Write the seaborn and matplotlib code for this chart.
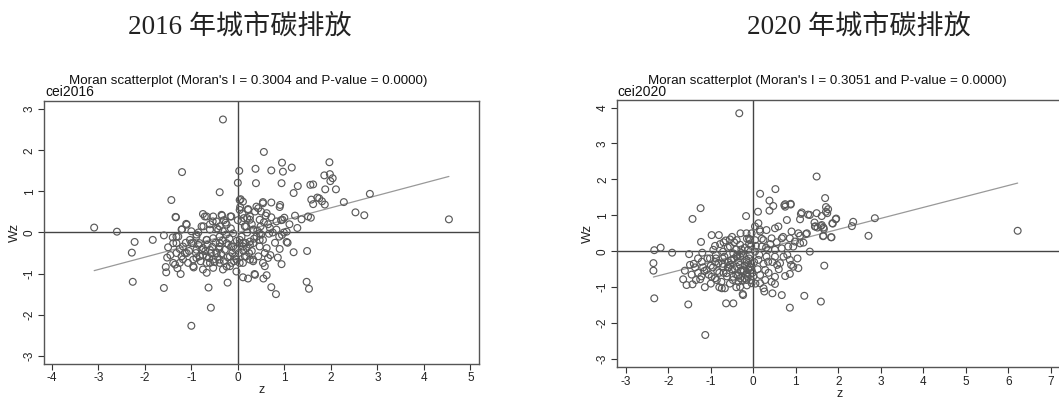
import matplotlib
matplotlib.use("Agg")
import matplotlib.pyplot as plt
import seaborn as sns
import pandas as pd

# ------------------------
# DADOS
# ------------------------
titles = ["2016 年城市碳排放", "2020 年城市碳排放"]
var_names = ["cei2016", "cei2020"]
moran_i = [0.3004, 0.3051]
p_values = [0.0000, 0.0000]

z_2016 = [
    -0.32, 0.56, -1.2, 0.03, 0.38, 0.72, 0.0, 0.39, -0.39, -1.43,
    -3.09, -2.6, -2.22, -2.28, -2.26, -1.83, -1.59, -1.34, -1.0, -0.58,
    -0.63, -1.59, -1.23, -0.22, -0.67, 0.11, 0.22, 0.36, 0.55, 0.62,
    0.72, 0.82, 0.95, 1.97, 0.97, 1.16, 1.86, 1.98, 2.04, 1.99,
    0.94, 1.29, 1.2, 1.56, 1.62, 1.88, 2.11, 1.58, 1.62, 1.71,
    1.75, 1.81, 1.87, 2.28, 2.84, 2.53, 2.72, 4.54, 1.23, 1.37,
    1.51, 1.57, 1.11, 1.28, 1.05, 1.07, 1.2, 1.49, 0.9, 0.86,
    0.94, 1.48, 1.53, 0.91, 0.72, 0.54, 1.0, 0.93, 0.99, 1.05,
    0.95, -1.33, -0.75, -0.71, -1.11, -1.2, -0.54, -0.35, -0.16, -0.26,
    -1.32, -1.32, -1.5, -1.52, -1.55, -1.54, -1.35, -1.3, -1.14, -1.0,
    -0.89, -0.67, -0.96, -0.78, -0.67, -0.6, -0.46, -0.39, -0.24, -0.39,
    -0.14, -0.06, 0.04, -0.42, -0.32, -0.25, 0.06, 0.11, 0.05, 0.22,
    0.37, 0.44, 0.5, 0.6, 0.72, 0.9, 0.83, 0.96, 0.47, 0.26,
    0.13, 0.15, 0.33, 0.49, 0.69, 0.83, 0.4, 0.54, 0.67, 0.89,
    0.26, 0.11, 0.19, 0.26, 0.47, 0.62, 0.58, 0.44, 0.65, 0.15,
    0.26, 0.11, 0.33, 0.54, 0.58, 0.37, -0.53, -0.34, -0.14, -0.46,
    -0.67, -0.74, -0.6, -0.39, -0.24, -0.1, 0.04, 0.22, 0.26, 0.4,
    0.54, 0.62, 0.04, 0.08, 0.18, 0.33, 0.47, 0.04, 0.11, 0.33,
    0.47, 0.18, 0.33, 0.04, -0.03, -0.17, -0.14, -0.1, -0.24, -0.39,
    -0.46, -0.53, -0.67, -0.82, -0.89, -0.96, -1.03, -1.1, -1.18, -1.32,
    -1.39, -1.25, -1.07, -0.96, -0.75, -0.53, -0.32, -0.17, -0.03, -0.39,
    -0.82, -0.67, -0.53, -0.39, -0.75, -0.6, -0.89, -1.21, -1.39, -1.28,
    -1.21, -1.1, -1.0, -0.89, -0.78,
    -0.9, -0.85, -0.8, -0.75, -0.7, -0.65, -0.62, -0.58, -0.55, -0.5,
    -0.48, -0.44, -0.4, -0.36, -0.33, -0.3, -0.28, -0.22, -0.2, -0.18,
    -0.12, -0.08, -0.05, -0.02, 0.02, 0.08, 0.12, 0.16, 0.2, 0.24,
    0.3, 0.35, 0.42, 0.5, 0.56, 0.65, 0.75, 0.8, 0.7, 0.3,
    -1.05, -1.12, -1.18, -1.25, -0.95, -0.85, -0.6, -0.45, -0.3, -0.15,
    -1.45, -1.4, 0.1, 0.2, 0.0,
]
wz_2016 = [
    2.75, 1.96, 1.47, 1.5, 1.55, 1.51, 1.21, 1.2, 0.98, 0.79,
    0.12, 0.02, -0.23, -0.49, -1.2, -0.18, -0.07, 0.38, -2.27, -1.83,
    -1.34, -1.35, -1.01, -1.22, -0.98, -1.09, -1.12, -1.01, -1.12, -1.04,
    -1.33, -1.5, 1.7, 1.71, 1.48, 1.58, 1.39, 1.42, 1.32, 1.25,
    1.2, 1.13, 0.96, 1.16, 1.17, 1.05, 1.05, 0.8, 0.69, 0.85,
    0.83, 0.76, 0.68, 0.74, 0.94, 0.49, 0.42, 0.32, 0.41, 0.32,
    0.39, 0.36, 0.2, 0.11, -0.23, -0.25, -0.48, -0.45, -0.4, -0.61,
    -0.77, -1.2, -1.37, 0.67, 0.73, 0.74, 0.36, 0.3, 0.0, 0.02,
    -0.06, 0.37, 0.45, 0.39, 0.21, 0.08, 0.27, 0.43, 0.39, 0.24,
    -0.1, -0.26, -0.36, -0.61, -0.84, -0.97, -0.78, -0.87, -0.5, -0.26,
    -0.1, -0.18, -0.66, -0.42, -0.58, -0.74, -0.5, -0.66, -0.83, -0.26,
    -0.34, -0.58, -0.26, 0.07, 0.03, -0.05, 0.81, 0.75, 0.62, 0.57,
    0.51, 0.59, 0.51, 0.41, 0.37, 0.62, 0.27, 0.31, 0.31, 0.31,
    0.35, 0.15, 0.07, 0.15, 0.11, 0.07, -0.1, -0.18, -0.03, -0.1,
    -0.22, -0.26, -0.38, -0.3, -0.34, -0.38, -0.5, -0.58, -0.62, -0.58,
    -0.66, -0.74, -0.7, -0.74, -0.82, -1.03, 0.39, 0.41, 0.39, 0.27,
    0.39, 0.15, 0.07, 0.15, 0.19, -0.02, 0.79, 0.55, 0.39, 0.63,
    0.71, 0.47, 0.55, 0.27, 0.15, 0.07, -0.02, -0.18, -0.34, -0.26,
    -0.18, -0.58, -0.66, -0.74, -0.66, -0.58, -0.74, -0.34, -0.26, -0.34,
    -0.5, -0.66, -0.74, -0.58, -0.42, -0.26, -0.18, -0.5, -0.34, -0.5,
    -0.74, -0.74, -0.74, -0.82, -0.9, -0.86, -0.9, -0.82, -0.95, -0.74,
    -0.26, -0.18, -0.14, -0.1, -0.38, -0.42, -0.62, -0.58, -0.26, -0.1,
    0.07, 0.19, 0.03, -0.05, 0.15,
    -0.5, -0.3, -0.7, -0.55, -0.45, -0.3, -0.62, -0.5, -0.35, -0.72,
    -0.25, -0.6, -0.4, -0.52, -0.2, -0.7, -0.42, -0.6, -0.3, -0.15,
    -0.5, -0.7, -0.4, -0.2, -0.5, -0.1, -0.45, -0.25, 0.0, -0.5,
    0.2, -0.15, 0.05, -0.05, 0.25, 0.2, 0.0, -0.25, -0.55, -0.45,
    -0.45, -0.25, -0.65, -0.4, -0.85, 0.0, 0.2, 0.1, 0.3, 0.1,
    -0.55, -0.12, 0.45, 0.35, 0.3,
]

z_2020 = [
    -0.33, -1.24, -1.43, -0.17, 0.16, 0.52, 0.38, 0.47, 0.38, 0.73,
    0.88, 0.11, 1.12, 1.29, 1.49, -2.33, -2.18, -2.35, -2.35, -2.33,
    -1.53, -1.91, -1.51, -1.23, -0.98, -0.81, -0.78, -0.94, -1.2, -1.02,
    -1.21, -1.49, -1.61, -1.65, -1.57, -1.43, -1.35, -1.25, -1.14, -1.37,
    -1.1, -0.98, -0.86, -0.74, -0.67, -0.47, -0.64, -0.55, -0.39, -0.31,
    -0.16, -0.08, -0.55, -0.71, -0.47, -0.31, -0.16, -0.08, -0.24, -0.39,
    -0.55, -0.71, -0.82, -0.63, -0.47, -0.31, -0.16, -0.04, -0.31, -0.24,
    0.75, 0.88, 0.75, 1.69, 1.71, 1.76, 1.74, 1.14, 1.33, 1.49,
    1.61, 1.1, 1.44, 1.45, 1.65, 1.59, 1.86, 1.94, 1.65, 1.83,
    1.33, 1.67, 2.35, 2.32, 1.2, 1.59, 0.86, 0.67, 0.45, 0.26,
    0.16, 0.51, 0.51, 0.75, 0.86, 0.56, 0.89, 0.94, 1.06, 0.86,
    1.04, 0.28, 0.35, 0.12, -0.12, -0.04, -0.13, 0.16, -0.12, 0.04,
    0.2, 0.35, 0.51, 0.67, 0.82, 0.94, 0.98, 1.1, 1.18, 0.86,
    0.67, 0.43, 0.24, 0.04, -0.04, 0.16, 0.31, 0.51, 0.59, 0.9,
    1.06, 1.26, 0.79, 0.12, 0.04, 0.31, 0.51, 0.71, 0.63, 0.28,
    0.43, 0.24, 1.71, 1.95, 1.87, 1.61, 1.51, 1.46, 1.66, 1.64,
    1.84, 1.24, 1.1, 2.86, 2.71, 6.22, -0.9, -0.85, -0.7, -0.6,
    -0.5, -0.45, -0.4, -0.35, -0.3, -0.25, -0.2, -0.18, -0.12, -0.1,
    -0.05, -0.02, -0.6, -0.4, -0.2, -0.1, -0.45, -0.65, -1.0, -1.15,
    -1.3, -1.4, -1.3, -1.05, -0.9, -0.75, -0.55, -0.35, -0.2, -0.05,
    -0.25, -1.13, -0.28, -0.38, -0.52, -0.6, -0.15, -0.05, -0.72, -0.88,
    -0.95, -0.88, -0.8, -0.72, -0.68, -0.62, -0.58, -0.52, -0.48, -0.43,
    -0.38, -0.36, -0.32, -0.28, -0.26, -0.22, -0.16, -0.14, -0.08, -0.06,
    0.0, 0.02, 0.06, 0.1, 0.14, 0.2, 0.24, 0.3, 0.36, 0.4,
    0.45, 0.55, 0.6, 0.7, 0.8, -1.08, -1.18, -1.22, -1.45, -0.9,
    -0.7, -0.5, -0.3, -0.1, 0.15, -1.0, -0.8, -0.4, -0.15, 0.05,
]
wz_2020 = [
    3.84, 1.2, 0.9, 0.98, 1.6, 1.73, 1.41, 1.26, 1.13, 1.28,
    1.3, 1.1, 1.04, 1.02, 2.08, 0.03, 0.1, -0.33, -0.54, -1.31,
    -1.48, -0.04, -0.08, 0.26, 0.45, 0.45, 0.2, 0.04, -0.04, -0.2,
    -0.29, -0.38, -0.54, -0.78, -0.94, -0.92, -0.8, -0.78, -1.0, -0.45,
    -0.52, -0.71, -0.8, -1.03, -1.03, -1.45, -1.45, 0.33, 0.31, 0.18,
    0.5, 0.31, 0.13, -0.01, -0.06, -0.15, -0.24, -0.43, -0.52, -0.43,
    -0.38, -0.43, -0.33, -0.61, -0.71, -0.75, -0.8, -0.89, -0.99, -1.22,
    1.31, 1.32, 1.24, 1.48, 1.23, 1.17, 1.06, 1.08, 1.01, 1.06,
    0.98, 0.89, 0.8, 0.69, 0.66, 0.7, 0.78, 0.89, 0.43, 0.39,
    -0.01, -0.4, 0.82, 0.7, -1.24, -1.4, -1.57, -1.22, -1.17, -1.12,
    -0.89, -0.91, -0.71, -0.69, -0.63, -0.38, -0.38, -0.43, -0.47, -0.24,
    -0.2, -0.52, -0.29, -0.24, -0.33, -0.52, -0.71, -0.66, 0.04, -0.01,
    0.13, 0.04, 0.04, 0.08, 0.13, 0.13, 0.27, 0.22, 0.24, 0.36,
    0.36, 0.36, 0.31, 0.31, 0.5, 0.55, 0.59, 0.64, 0.69, 0.55,
    0.5, 0.5, 0.87, 0.78, 0.69, -0.15, -0.15, -0.15, -0.33, -0.8,
    -0.85, -1.03, 1.1, 0.91, 0.77, 0.73, 0.66, 0.69, 0.62, 0.42,
    0.39, 0.48, 0.43, 0.92, 0.43, 0.57, -0.3, -0.55, -0.6, -0.3,
    -0.5, -0.2, -0.65, -0.3, -0.55, -0.1, -0.4, -0.65, -0.5, -0.2,
    -0.35, -0.6, 0.1, 0.05, 0.1, 0.2, 0.25, 0.3, -0.4, -0.55,
    -0.6, -0.35, -0.2, -0.65, -0.75, -0.85, -0.9, -0.85, -0.75, -0.8,
    -1.19, -2.33, 0.05, -0.1, -0.25, -0.45, 0.35, 0.15, -0.2, -0.1,
    -0.45, -0.2, -0.6, -0.35, -0.15, -0.7, -0.45, -0.25, -0.8, -0.5,
    -0.15, -0.68, -0.38, -0.05, -0.8, -0.55, -0.3, -0.6, -0.1, -0.45,
    -0.7, -0.3, 0.15, -0.5, -0.1, 0.35, -0.35, 0.1, -0.6, 0.2,
    -0.3, 0.25, -0.5, 0.4, -0.1, -0.2, -0.45, -0.7, -0.65, 0.15,
    0.25, 0.4, 0.5, 0.35, 0.6, -0.9, -1.0, -1.0, -0.95, -0.9,
]

xlims = [(-4.17, 5.18), (-3.2, 7.24)]
ylims = [(-3.2, 3.2), (-3.23, 4.21)]
xticks = [list(range(-4, 6)), list(range(-3, 8))]
yticks = [list(range(-3, 4)), list(range(-3, 5))]

# ------------------------
# FIGURA
# ------------------------
sns.set_theme(style="white")
plt.rcParams["font.family"] = ["Liberation Sans", "DejaVu Sans"]

fig = plt.figure(figsize=(10.59, 3.99), dpi=100)
positions = [
    [0.0415, 0.0877, 0.4105, 0.6592],
    [0.5829, 0.0794, 0.4190, 0.6700],
]
title_x = [240 / 1059, 859 / 1059]
sub_x = [248 / 1059, 827 / 1059]
cei_x = [45 / 1059, 617 / 1059]

datasets = [(z_2016, wz_2016), (z_2020, wz_2020)]
edge = "#5a5a5a"

for i, (zz, ww) in enumerate(datasets):
    ax = fig.add_axes(positions[i])
    df = pd.DataFrame({"z": zz, "Wz": ww})

    ax.axhline(0, color="#444444", lw=1.0, zorder=1)
    ax.axvline(0, color="#444444", lw=1.0, zorder=1)

    # reta de Moran (Wz = I * z)
    zmin, zmax = df["z"].min(), df["z"].max()
    line_df = pd.DataFrame({"z": [zmin, zmax],
                            "Wz": [moran_i[i] * zmin, moran_i[i] * zmax]})
    sns.lineplot(data=line_df, x="z", y="Wz", ax=ax, color="#999999", lw=0.9, zorder=2)

    sns.scatterplot(data=df, x="z", y="Wz", ax=ax, marker="o", s=24,
                    facecolors="none", edgecolor=edge, linewidth=0.85, zorder=3)

    ax.set_xlim(*xlims[i])
    ax.set_ylim(*ylims[i])
    ax.set_xticks(xticks[i])
    ax.set_yticks(yticks[i])
    ax.set_xticklabels([str(t) for t in xticks[i]], fontsize=8.5)
    ax.set_yticklabels([str(t) for t in yticks[i]], fontsize=8.5, rotation=90, va="center")
    ax.tick_params(axis="both", direction="out", length=4, width=0.8, color="#333333",
                   pad=2, labelcolor="#222222", bottom=True, left=True)
    for sp in ax.spines.values():
        sp.set_color("#555555")
        sp.set_linewidth(1.0)
    ax.set_xlabel("z", fontsize=9, labelpad=0, color="#222222")
    ax.set_ylabel("Wz", fontsize=9.5, labelpad=2, color="#222222")

    fig.text(title_x[i], 1 - 27 / 399, titles[i], ha="center", va="center",
             fontsize=19.5, family=["Liberation Serif", "Noto Sans CJK SC"], color="#222222")
    fig.text(sub_x[i], 1 - 81 / 399,
             f"Moran scatterplot (Moran's I = {moran_i[i]:.4f} and P-value = {p_values[i]:.4f})",
             ha="center", va="center", fontsize=9.6, color="#111111")
    fig.text(cei_x[i], 1 - 92 / 399, var_names[i], ha="left", va="center",
             fontsize=10, color="#111111")

fig.savefig("out.png", dpi=100)
